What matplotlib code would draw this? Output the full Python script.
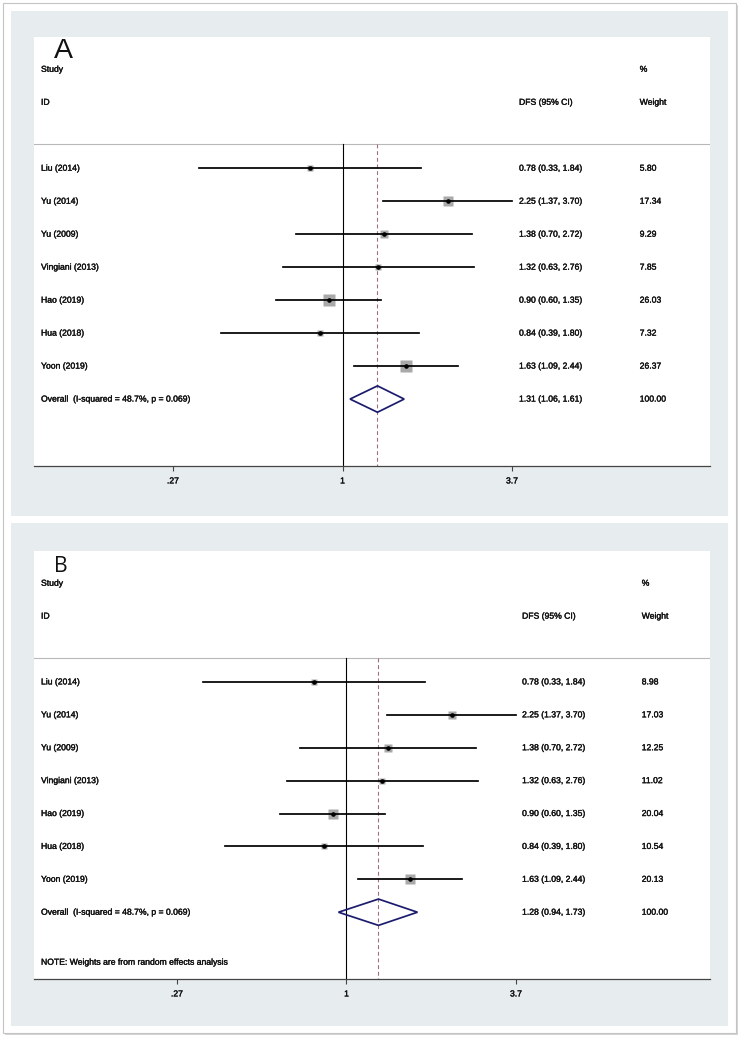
import numpy as np
import matplotlib
matplotlib.use('Agg')
import matplotlib.pyplot as plt
import matplotlib.patheffects as pe
from matplotlib.patches import Rectangle, Polygon
from matplotlib.transforms import blended_transform_factory

plt.rcParams['font.family'] = ['Liberation Sans', 'DejaVu Sans']

# %% data
studies = ['Liu (2014)', 'Yu (2014)', 'Yu (2009)', 'Vingiani (2013)',
           'Hao (2019)', 'Hua (2018)', 'Yoon (2019)']
dfs = [0.78, 2.25, 1.38, 1.32, 0.90, 0.84, 1.63]
ci_low = [0.33, 1.37, 0.70, 0.63, 0.60, 0.39, 1.09]
ci_high = [1.84, 3.70, 2.72, 2.76, 1.35, 1.80, 2.44]

weights_a = [5.80, 17.34, 9.29, 7.85, 26.03, 7.32, 26.37]
weights_b = [8.98, 17.03, 12.25, 11.02, 20.04, 10.54, 20.13]

overall_a = (1.31, 1.06, 1.61)
overall_b = (1.28, 0.94, 1.73)
overall_label = 'Overall  (I-squared = 48.7%, p = 0.069)'

xticks = [0.27, 1, 3.7]
xtick_labels = ['.27', '1', '3.7']

# %% figure
W, H = 740, 1039
fig = plt.figure(figsize=(W / 100, H / 100), dpi=100)
fig.patch.set_facecolor('white')

def fig_rect(x0, y0, x1, y1):
    # pixel box (top-left origin) -> figure fraction
    return [x0 / W, 1 - y1 / H, (x1 - x0) / W, (y1 - y0) / H]

# outer card + grey panels (behind the axes)
l, b, w, h = fig_rect(3, 3, 736, 1033)
fig.patches.append(Rectangle((l + 2 / W, b - 2 / H), w, h, transform=fig.transFigure,
                             facecolor='#d4d4d4', edgecolor='none', zorder=-3))
fig.patches.append(Rectangle((l, b), w, h, transform=fig.transFigure,
                             facecolor='white', edgecolor='#c4c4c4', lw=0.8, zorder=-2))
for box in [(11, 11, 728, 516), (11, 523, 728, 1026)]:
    l, b, w, h = fig_rect(*box)
    fig.patches.append(Rectangle((l, b), w, h, transform=fig.transFigure,
                                 facecolor='#e7ecef', edgecolor='none', zorder=-1))

heavy = [pe.withStroke(linewidth=0.25, foreground='#111111')]
txt = dict(fontsize=6.2, color='#111111', va='center', path_effects=heavy)


def forest(box, center_px, weights, overall, k_box, letter, letter_font, cols, note=False):
    x0, y0, x1, y1 = box
    ax = fig.add_axes(fig_rect(x0, y0, x1, y1))
    ax.set_facecolor('white')
    scale = 129.5
    ax.set_xscale('log')
    ax.set_xlim(np.exp((x0 - center_px) / scale), np.exp((x1 - center_px) / scale))
    ax.set_ylim(10.03, -2.98)

    trans = blended_transform_factory(ax.transAxes, ax.transData)
    col_id, col_ci, col_w = cols

    # header
    ax.text(col_id, -2, 'Study', transform=trans, **txt)
    ax.text(col_w, -2, '%', transform=trans, **txt)
    ax.text(col_id, -1, 'ID', transform=trans, **txt)
    ax.text(col_ci, -1, 'DFS (95% CI)', transform=trans, **txt)
    ax.text(col_w, -1, 'Weight', transform=trans, **txt)
    ax.axhline(0.26, color='#b8b8b8', lw=0.8)

    # reference lines
    ax.plot([1, 1], [0.26, 10.03], color='black', lw=0.8)
    ax.plot([overall[0]] * 2, [0.26, 10.03], color='#a07078', lw=0.8,
            dashes=(3.5, 2.5))

    rows = np.arange(1, len(studies) + 1)
    for i, r in enumerate(rows):
        ax.plot([ci_low[i], ci_high[i]], [r, r], color='black', lw=1.25, zorder=3)
        side = k_box * np.sqrt(weights[i]) * 0.72
        ax.plot(dfs[i], r, marker='s', ms=side, color='#a9a9a9', mec='none', zorder=2)
        ax.plot(dfs[i], r, marker='o', ms=2.3, color='black', zorder=4)
        ax.text(col_id, r, studies[i], transform=trans, **txt)
        ax.text(col_ci, r, f'{dfs[i]:.2f} ({ci_low[i]:.2f}, {ci_high[i]:.2f})',
                transform=trans, **txt)
        ax.text(col_w, r, f'{weights[i]:.2f}', transform=trans, **txt)

    ro = len(studies) + 1
    est, lo, hi = overall
    hh = 0.4
    ax.add_patch(Polygon([(lo, ro), (est, ro - hh), (hi, ro), (est, ro + hh)],
                         closed=True, facecolor='none', edgecolor='#1c1c6e', lw=1.25, zorder=5))
    ax.text(col_id, ro, overall_label, transform=trans, **txt)
    ax.text(col_ci, ro, f'{est:.2f} ({lo:.2f}, {hi:.2f})', transform=trans, **txt)
    ax.text(col_w, ro, '100.00', transform=trans, **txt)
    if note:
        ax.text(col_id, ro + 1.52, 'NOTE: Weights are from random effects analysis',
                transform=trans, **txt)

    ax.text(0.03, -2.33, letter, transform=trans, ha='left', va='baseline', **letter_font)

    for s in ['top', 'right', 'left']:
        ax.spines[s].set_visible(False)
    ax.spines['bottom'].set_color('#444444')
    ax.spines['bottom'].set_linewidth(0.9)
    ax.set_yticks([])
    ax.set_xticks(xticks)
    ax.set_xticklabels(xtick_labels)
    ax.minorticks_off()
    ax.tick_params(axis='x', direction='out', length=3.5, width=0.8, color='#444444',
                   labelsize=6.2, labelcolor='#111111', pad=4)
    for lab in ax.get_xticklabels():
        lab.set_path_effects(heavy)
    return ax


forest((34, 37, 710, 466), 342.5, weights_a, overall_a, 2.37, 'A',
       dict(fontsize=20.5, family='Liberation Sans', color='#111111'),
       (0.0104, 0.7175, 0.896))
forest((34, 551, 710, 979), 346.5, weights_b, overall_b, 2.02, 'B',
       dict(fontsize=15.2, family='Open Sans', color='#111111'),
       (0.0104, 0.722, 0.899), note=True)

fig.savefig('out.png', dpi=100)
